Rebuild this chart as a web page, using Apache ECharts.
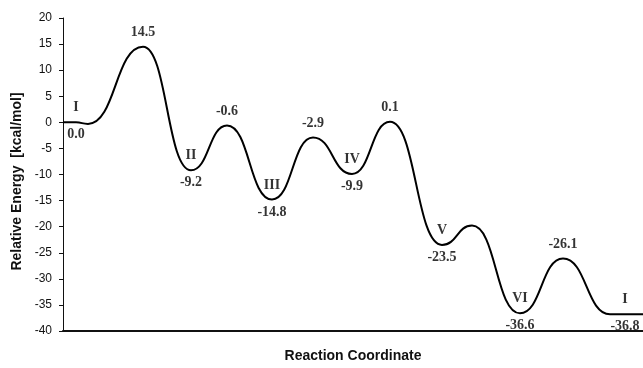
<!DOCTYPE html>
<html>
<head>
<meta charset="utf-8">
<script src="https://cdn.jsdelivr.net/npm/echarts@6/dist/echarts.min.js"></script>
<style>
  html, body { margin: 0; padding: 0; background: #fff; }
  #chart { width: 643px; height: 368px; }
</style>
</head>
<body>
<div id="chart"></div>
<script>
// Energy profile along the reaction coordinate (stationary points, kcal/mol)
const coord  = [0, 13, 25, 80, 128, 164, 209, 250, 289, 327, 379, 409, 457, 500, 547, 562, 580];
const energy = [0.0, 0.0, -0.3, 14.5, -9.2, -0.6, -14.8, -2.9, -9.9, 0.1, -23.5, -19.8, -36.6, -26.1, -36.8, -36.8, -36.8];

// Labelled intermediates (indices into the profile) and their names
const minima = [1, 4, 6, 8, 10, 12, 15];
const minimaNames = ['I', 'II', 'III', 'IV', 'V', 'VI', 'I'];
// Labelled transition states
const maxima = [3, 5, 7, 9, 13];

const yTicks = { min: -40, max: 20, step: 5 };

const profile = coord.map((x, i) => [x, energy[i]]);

const serifBold = {
  fontFamily: '"Liberation Serif", "Times New Roman", serif',
  fontWeight: 'bold',
  fontSize: 14,
  color: '#000'
};
const sansBold = {
  fontFamily: '"Liberation Sans", Arial, sans-serif',
  fontWeight: 'bold',
  fontSize: 14,
  color: '#111'
};

const chart = echarts.init(document.getElementById('chart'));
chart.setOption({
  animation: false,
  backgroundColor: '#fff',
  grid: { left: 63, right: 0, top: 18, bottom: 30 },
  xAxis: {
    type: 'value',
    min: 0,
    max: 580,
    name: 'Reaction Coordinate',
    nameLocation: 'middle',
    nameGap: 18,
    nameTextStyle: sansBold,
    axisLine: { show: true, onZero: false, lineStyle: { color: '#111', width: 2 } },
    axisTick: { show: false },
    axisLabel: { show: false },
    splitLine: { show: false }
  },
  yAxis: {
    type: 'value',
    min: yTicks.min,
    max: yTicks.max,
    interval: yTicks.step,
    name: 'Relative Energy  [kcal/mol]',
    nameLocation: 'middle',
    nameGap: 38,
    nameTextStyle: { ...sansBold, padding: [0, 14, 0, 0] },
    axisLine: { show: true, onZero: false, lineStyle: { color: '#111', width: 1 } },
    axisTick: { show: true, length: 4, lineStyle: { color: '#111' } },
    axisLabel: {
      margin: 11,
      fontFamily: '"Liberation Sans", Arial, sans-serif',
      fontSize: 12,
      color: '#111'
    },
    splitLine: { show: false }
  },
  series: [
    {
      name: 'profile',
      type: 'line',
      data: profile,
      smooth: 0.5,
      smoothMonotone: 'x',
      showSymbol: false,
      lineStyle: { color: '#000', width: 2 },
      silent: true
    },
    {
      name: 'intermediate energies',
      type: 'scatter',
      symbolSize: 1,
      itemStyle: { color: 'transparent' },
      silent: true,
      data: minima.map(i => profile[i]),
      label: {
        show: true,
        position: 'bottom',
        distance: 5,
        formatter: p => p.value[1].toFixed(1),
        ...serifBold
      }
    },
    {
      name: 'intermediate names',
      type: 'scatter',
      symbolSize: 1,
      itemStyle: { color: 'transparent' },
      silent: true,
      data: minima.map((i, k) => ({ value: profile[i], name: minimaNames[k] })),
      label: {
        show: true,
        position: 'top',
        distance: 7,
        formatter: p => p.name,
        ...serifBold
      }
    },
    {
      name: 'transition state energies',
      type: 'scatter',
      symbolSize: 1,
      itemStyle: { color: 'transparent' },
      silent: true,
      data: maxima.map(i => profile[i]),
      label: {
        show: true,
        position: 'top',
        distance: 7,
        formatter: p => p.value[1].toFixed(1),
        ...serifBold
      }
    }
  ]
});
</script>
</body>
</html>
